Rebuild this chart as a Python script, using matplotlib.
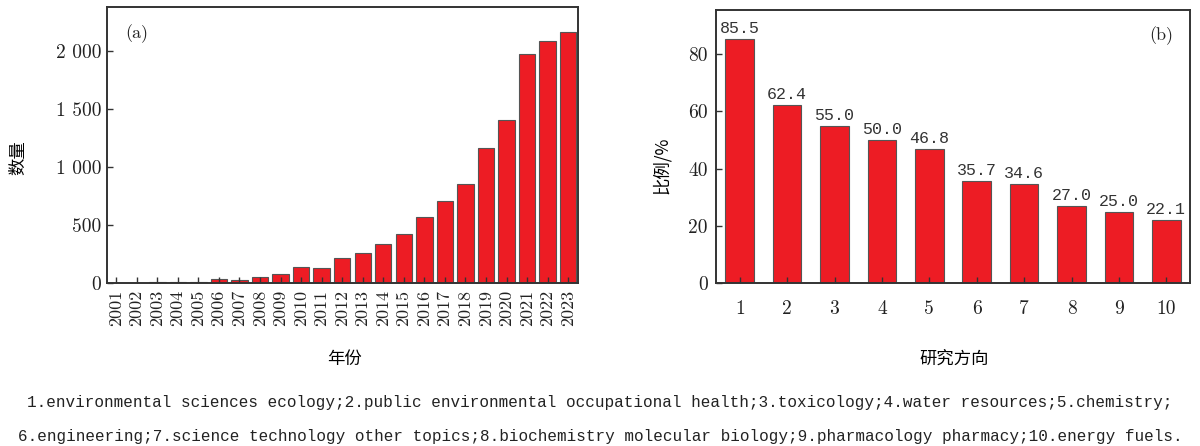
import matplotlib
matplotlib.use("Agg")
import matplotlib.pyplot as plt
from matplotlib.ticker import FixedLocator, FixedFormatter

years = [str(y) for y in range(2001, 2024)]
counts = [1, 1, 8, 11, 11, 34, 29, 52, 80, 135, 132, 216, 262, 336, 425,
          572, 704, 856, 1167, 1408, 1977, 2089, 2164]
count_ticks = [0, 500, 1000, 1500, 2000]
count_tick_labels = ["0", "500", "1 000", "1 500", "2 000"]

directions = ["1", "2", "3", "4", "5", "6", "7", "8", "9", "10"]
ratios = [85.5, 62.4, 55.0, 50.0, 46.8, 35.7, 34.6, 27.0, 25.0, 22.1]
ratio_ticks = [0, 20, 40, 60, 80]

caption_lines = [
    "1.environmental sciences ecology;2.public environmental occupational health;3.toxicology;4.water resources;5.chemistry;",
    "6.engineering;7.science technology other topics;8.biochemistry molecular biology;9.pharmacology pharmacy;10.energy fuels.",
]

W, H = 1200, 446
fig = plt.figure(figsize=(W / 100, H / 100), dpi=100)

RED = "#ED1C24"
EDGE = "#555555"
SPINE = "#333333"
TXT = "#222222"
num_font = "cmr10"
cjk = ["Noto Sans CJK SC", "DejaVu Sans"]
mono = "Liberation Mono"


def frac(x0, y0, x1, y1):
    return [x0 / W, 1 - y1 / H, (x1 - x0) / W, (y1 - y0) / H]


A1 = (107, 7, 578, 283)
A2 = (716, 10, 1190, 283)
ax1 = fig.add_axes(frac(*A1))
ax2 = fig.add_axes(frac(*A2))


def label_coords(box, px, py):
    x0, y0, x1, y1 = box
    return (px - x0) / (x1 - x0), (y1 - py) / (y1 - y0)


# --- (a)
x1 = list(range(len(years)))
ax1.bar(x1, counts, width=0.8, color=RED, edgecolor=EDGE, linewidth=0.8)
ax1.set_xlim(-0.45, len(years) - 0.52)
ax1.set_ylim(0, 2380)
ax1.set_xticks(x1)
ax1.set_xticklabels(years, rotation=90, fontfamily=num_font, fontsize=13)
ax1.yaxis.set_major_locator(FixedLocator(count_ticks))
ax1.yaxis.set_major_formatter(FixedFormatter(count_tick_labels))
for lab in ax1.get_yticklabels():
    lab.set_fontfamily(num_font)
    lab.set_fontsize(14)
ax1.set_ylabel("数量", fontfamily=cjk, fontsize=12.5, va="center", ha="center")
ax1.yaxis.set_label_coords(*label_coords(A1, 18, 158))
ax1.set_xlabel("年份", fontfamily=cjk, fontsize=12.5, va="center", ha="center")
ax1.xaxis.set_label_coords(*label_coords(A1, 345, 359))
ax1.text(0.038, 0.905, "(a)", transform=ax1.transAxes, fontfamily=num_font,
         fontsize=13, va="center", ha="left", color=TXT)

# --- (b)
x2 = list(range(1, len(directions) + 1))
ax2.bar(x2, ratios, width=0.6, color=RED, edgecolor=EDGE, linewidth=0.8)
ax2.set_xlim(0.5, len(directions) + 0.5)
ax2.set_ylim(0, 95.5)
ax2.set_xticks(x2)
ax2.set_xticklabels(directions, fontfamily=num_font, fontsize=14)
ax2.set_yticks(ratio_ticks)
ax2.set_yticklabels([str(v) for v in ratio_ticks], fontfamily=num_font, fontsize=14)
ax2.set_ylabel("比例/%", fontfamily=cjk, fontsize=12.5, va="center", ha="center")
ax2.yaxis.set_label_coords(*label_coords(A2, 662, 165))
ax2.set_xlabel("研究方向", fontfamily=cjk, fontsize=12.5, va="center", ha="center")
ax2.xaxis.set_label_coords(*label_coords(A2, 954, 359))
ax2.text(0.965, 0.905, "(b)", transform=ax2.transAxes, fontfamily=num_font,
         fontsize=13, va="center", ha="right", color=TXT)
for xi, v in zip(x2, ratios):
    ax2.annotate(f"{v:.1f}", (xi, v), xytext=(0, 2), textcoords="offset points",
                 ha="center", va="bottom", fontfamily=mono, fontsize=12,
                 color="#333333")

for ax in (ax1, ax2):
    for s in ax.spines.values():
        s.set_color(SPINE)
        s.set_linewidth(1.4)
    ax.tick_params(axis="both", direction="in", length=4, width=1.0,
                   color=SPINE, labelcolor=TXT, pad=4)
ax1.tick_params(axis="x", pad=5)
ax2.tick_params(axis="x", pad=12)
ax2.tick_params(axis="y", pad=6)

fig.text(0.5, 1 - 403 / H, caption_lines[0], ha="center", va="center",
         fontfamily=mono, fontsize=11.5, color=TXT)
fig.text(0.5, 1 - 436 / H, caption_lines[1], ha="center", va="center",
         fontfamily=mono, fontsize=11.5, color=TXT)

fig.savefig("out.png", dpi=100)
